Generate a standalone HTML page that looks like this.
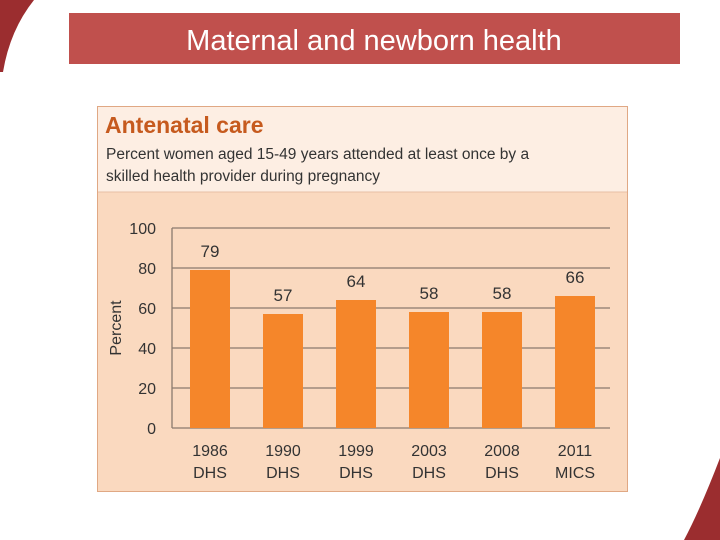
<!DOCTYPE html>
<html><head><meta charset="utf-8"><style>
body{margin:0;width:720px;height:540px;background:#fff;position:relative;overflow:hidden;font-family:"Liberation Sans",sans-serif}
</style></head><body>
<svg width="720" height="540" style="position:absolute;left:0;top:0">
<path d="M0,0 L34,0 Q10,30 3,72 L0,72 Z" fill="#9b2d2f"/>
<path d="M720,458 Q700,510 684,540 L720,540 Z" fill="#9b2d2f"/>
<rect x="69" y="13" width="611" height="51" fill="#c0504d"/>
<text x="374" y="50" text-anchor="middle" font-size="29" fill="#fff">Maternal and newborn health</text>
<rect x="97.5" y="106.5" width="530" height="385" fill="#fad9bf" stroke="#e0a884"/>
<rect x="98" y="107" width="529" height="85" fill="#fdeee3"/>
<line x1="98" y1="192" x2="627" y2="192" stroke="#e8c0a4"/>
<text x="105" y="133" font-size="23" font-weight="bold" fill="#c65a1e">Antenatal care</text>
<text x="106" y="159" font-size="15.5" fill="#333">Percent women aged 15-49 years attended at least once by a</text>
<text x="106" y="181" font-size="15.5" fill="#333">skilled health provider during pregnancy</text>
<text transform="translate(121,328) rotate(-90)" text-anchor="middle" font-size="16" fill="#333">Percent</text>
<g id="chart"></g>
</svg>
<script>
const categories=[["1986","DHS"],["1990","DHS"],["1999","DHS"],["2003","DHS"],["2008","DHS"],["2011","MICS"]];
const values=[79,57,64,58,58,66];
const ticks=[0,20,40,60,80,100];
const g=document.getElementById('chart');const NS='http://www.w3.org/2000/svg';
const x0=172,x1=610,y=v=>428-v*2,bandW=73,xc=i=>210+i*bandW;
function mk(t,a,txt){const e=document.createElementNS(NS,t);for(const k in a)e.setAttribute(k,a[k]);if(txt!==undefined)e.textContent=txt;g.appendChild(e);return e;}
ticks.forEach(t=>{
 const l=mk('line',{x1:x0,x2:x1,y1:y(t),y2:y(t),stroke:'#8a7a6e','stroke-width':1.3});
 
 
 const tx=mk('text',{x:156,y:y(t)+6,'text-anchor':'end','font-size':16,fill:'#333'},t);
 
 
});
const ax=mk('line',{x1:x0,x2:x0,y1:y(100),y2:y(0),stroke:'#8a7a6e','stroke-width':1.3});


values.forEach((v,i)=>{
 const b=mk('rect',{x:xc(i)-20,y:y(v),width:40,height:v*2,fill:'#f5862a'});
 
 
 const lb=mk('text',{x:xc(i),y:y(v)-13,'text-anchor':'middle','font-size':17,fill:'#333'},v);
 
 
 categories[i].forEach((c,j)=>{
  const t=mk('text',{x:xc(i),y:456+j*22,'text-anchor':'middle','font-size':16,fill:'#333'},c);
  
  
 });
});
</script>
</body></html>
